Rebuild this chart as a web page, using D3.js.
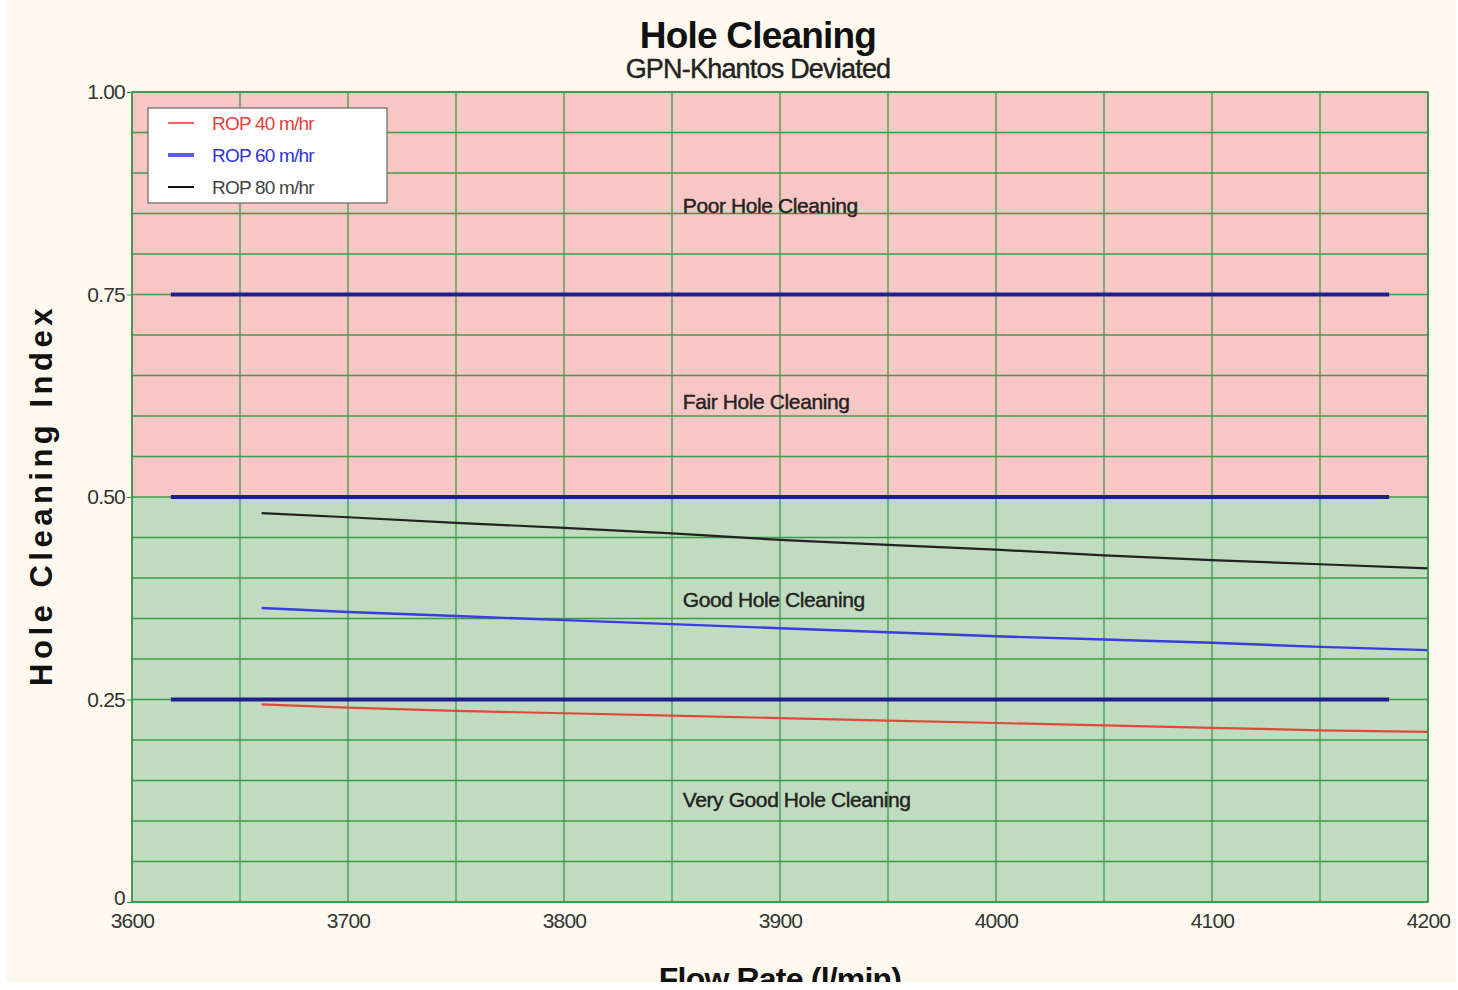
<!DOCTYPE html>
<html>
<head>
<meta charset="utf-8">
<script src="https://cdn.jsdelivr.net/npm/d3@7"></script>
<style>
  body { margin: 0; background: #ffffff; }
  svg { position: absolute; left: 6px; top: 0; }
  .narrow { font-family: "Liberation Sans", Arial, sans-serif; letter-spacing: -0.8px; }
</style>
</head>
<body>
<div id="chart"></div>
<script>
const flowRates = [3660, 3700, 3750, 3800, 3850, 3900, 3950, 4000, 4050, 4100, 4150, 4200];
const rop40 = [0.244, 0.240, 0.236, 0.233, 0.230, 0.227, 0.224, 0.221, 0.218, 0.215, 0.212, 0.210];
const rop60 = [0.363, 0.358, 0.353, 0.348, 0.343, 0.338, 0.333, 0.328, 0.324, 0.320, 0.315, 0.311];
const rop80 = [0.480, 0.475, 0.468, 0.462, 0.455, 0.447, 0.441, 0.435, 0.428, 0.422, 0.417, 0.412];
const seriesNames = ["ROP 40 m/hr", "ROP 60 m/hr", "ROP 80 m/hr"];
const thresholds = [0.25, 0.5, 0.75];
const thresholdRange = [3618, 4182];
const zoneLabels = ["Very Good Hole Cleaning", "Good Hole Cleaning", "Fair Hole Cleaning", "Poor Hole Cleaning"];
const zoneValues = [0.126, 0.373, 0.618, 0.860];
const xTicks = [3600, 3700, 3800, 3900, 4000, 4100, 4200];
const yTicks = [0, 0.25, 0.5, 0.75, 1];
const yTickLabels = ["0", "0.25", "0.50", "0.75", "1.00"];

(() => {
    const W = 1450, H = 982;
    const left = 126, right = 1422, top = 92, bottom = 902;
    const gridColor = "#2f9440";

    const svg = d3.select("#chart").append("svg")
        .attr("width", W).attr("height", H)
        .style("background", "#fdf9ef");

    const x = d3.scaleLinear().domain([3600, 4200]).range([left, right]);
    const y = d3.scaleLinear().domain([0, 1]).range([bottom, top]);

    // zone fills
    svg.append("rect").attr("x", x(3600)).attr("y", y(1))
        .attr("width", x(4200) - x(3600)).attr("height", y(0.5) - y(1))
        .attr("fill", "#f8c6c4");
    svg.append("rect").attr("x", x(3600)).attr("y", y(0.5))
        .attr("width", x(4200) - x(3600)).attr("height", y(0) - y(0.5))
        .attr("fill", "#c0dbbf");

    // grid
    const grid = svg.append("g").attr("stroke", gridColor).attr("stroke-width", 1.3).attr("opacity", 0.9);
    grid.selectAll(".gx").data(d3.range(3600, 4201, 50)).enter().append("line")
        .attr("x1", d => x(d)).attr("x2", d => x(d))
        .attr("y1", y(0)).attr("y2", y(1));
    grid.selectAll(".gy").data(d3.range(0, 21).map(i => i * 0.05)).enter().append("line")
        .attr("x1", x(3600)).attr("x2", x(4200))
        .attr("y1", d => y(d)).attr("y2", d => y(d));

    // axes
    const xAxis = svg.append("g").attr("transform", `translate(0,${bottom})`)
        .call(d3.axisBottom(x).tickValues(xTicks).tickSize(0).tickPadding(11).tickFormat(d3.format("d")));
    xAxis.select(".domain").remove();
    xAxis.selectAll("text").attr("class", "narrow").style("font-size", "21px").attr("fill", "#333");

    const yAxis = svg.append("g").attr("transform", `translate(${left},0)`)
        .call(d3.axisLeft(y).tickValues(yTicks).tickSize(5).tickPadding(2).tickFormat((d, i) => yTickLabels[i]));
    yAxis.select(".domain").remove();
    yAxis.selectAll("line").attr("stroke", gridColor);
    yAxis.selectAll("text").attr("class", "narrow").style("font-size", "21px").attr("fill", "#333")
        .attr("dy", d => d === 0 ? "0.1em" : "0.32em");

    // zone labels
    svg.selectAll(".zone").data(zoneLabels).enter().append("text")
        .attr("class", "narrow")
        .attr("x", x(3855)).attr("y", (d, i) => y(zoneValues[i]))
        .attr("dy", "0.35em")
        .style("font-size", "21px").style("letter-spacing", "-0.4px").attr("fill", "#222")
        .attr("stroke", "#222").attr("stroke-width", 0.4)
        .text(d => d);

    // threshold lines
    svg.selectAll(".thr").data(thresholds).enter().append("line")
        .attr("x1", x(thresholdRange[0])).attr("x2", x(thresholdRange[1]))
        .attr("y1", d => y(d)).attr("y2", d => y(d))
        .attr("stroke", "#1e1e8c").attr("stroke-width", 4);

    // series
    const line = d3.line().x((d, i) => x(flowRates[i])).y(d => y(d));
    const series = [
        { vals: rop40, color: "#e0483c", width: 2.2 },
        { vals: rop60, color: "#3a3ae6", width: 2.4 },
        { vals: rop80, color: "#222222", width: 2.2 }
    ];
    svg.selectAll(".series").data(series).enter().append("path")
        .attr("d", d => line(d.vals))
        .attr("fill", "none")
        .attr("stroke", d => d.color)
        .attr("stroke-width", d => d.width);

    // plot border
    svg.append("rect").attr("x", x(3600)).attr("y", y(1))
        .attr("width", x(4200) - x(3600)).attr("height", y(0) - y(1))
        .attr("fill", "none").attr("stroke", gridColor).attr("stroke-width", 1.5);

    // legend
    const lg = svg.append("g").attr("transform", "translate(142,108)");
    lg.append("rect").attr("width", 239).attr("height", 95)
        .attr("fill", "#ffffff").attr("stroke", "#666").attr("stroke-width", 1.2);
    const legendColors = ["#f06060", "#5a5af0", "#111111"];
    const legendWidths = [2, 4, 2];
    const lgItems = lg.selectAll(".item").data(seriesNames).enter().append("g")
        .attr("transform", (d, i) => `translate(0,${15 + i * 32})`);
    lgItems.append("line").attr("x1", 20).attr("x2", 46)
        .attr("stroke", (d, i) => legendColors[i]).attr("stroke-width", (d, i) => legendWidths[i]);
    lgItems.append("text").attr("class", "narrow")
        .attr("x", 64).attr("dy", "0.35em")
        .style("font-size", "19px")
        .attr("fill", (d, i) => ["#e84040", "#3030e0", "#444"][i])
        .text(d => d);

    // titles
    svg.append("text").attr("class", "narrow")
        .attr("x", 752).attr("y", 48).attr("text-anchor", "middle")
        .style("font-size", "37px").style("font-weight", "bold").attr("fill", "#111")
        .text("Hole Cleaning");
    svg.append("text").attr("class", "narrow")
        .attr("x", 752).attr("y", 78).attr("text-anchor", "middle")
        .style("font-size", "27px").attr("fill", "#222")
        .attr("stroke", "#222").attr("stroke-width", 0.4)
        .text("GPN-Khantos Deviated");

    svg.append("text")
        .attr("transform", `translate(46,${(top + bottom) / 2 - 2}) rotate(-90)`)
        .attr("text-anchor", "middle")
        .style("font-family", "'Liberation Sans', Arial, sans-serif")
        .style("font-size", "31px").style("font-weight", "bold").style("letter-spacing", "4.5px")
        .attr("fill", "#111")
        .text("Hole Cleaning Index");

    svg.append("text").attr("class", "narrow")
        .attr("x", 774).attr("y", 990).attr("text-anchor", "middle")
        .style("font-size", "32px").style("font-weight", "bold").attr("fill", "#111")
        .text("Flow Rate (l/min)");
})();
</script>
</body>
</html>
